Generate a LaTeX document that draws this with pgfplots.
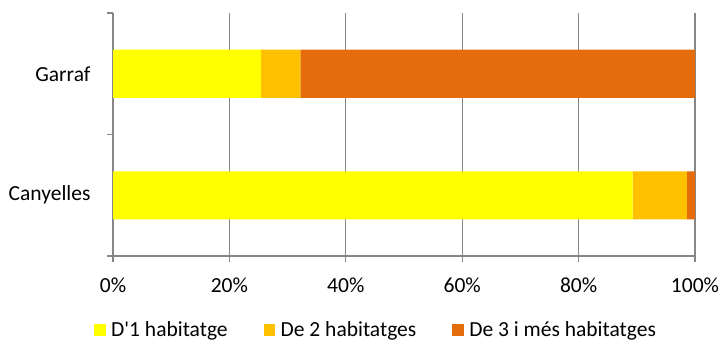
\documentclass[border=0pt]{standalone}
\usepackage{pgfplots}
\pgfplotsset{compat=1.18}
\usepackage{fontspec}
\setmainfont{Carlito}
\definecolor{c1}{HTML}{FFFF00}
\definecolor{c2}{HTML}{FFC000}
\definecolor{c3}{HTML}{E46C0A}
\definecolor{gridc}{HTML}{868686}
\begin{document}
\begin{tikzpicture}[x=1bp,y=1bp]
\path[use as bounding box] (0,0) rectangle (721,341);
\begin{axis}[
  at={(113bp,85bp)}, anchor=south west,
  scale only axis, width=582bp, height=243bp,
  xbar stacked, bar width=48bp,
  xmin=0, xmax=100, ymin=-0.5, ymax=1.5,
  axis x line=bottom, axis y line=left,
  axis line style={draw=gridc, line width=1.3bp, -},
  xtick={0,20,40,60,80,100},
  xticklabels={0\%,20\%,40\%,60\%,80\%,100\%},
  xticklabel style={yshift=-12bp},
  xmajorgrids, grid style={draw=gridc, line width=1.1bp},
  tick align=outside, major tick length=6bp,
  tick style={draw=gridc, line width=1.3bp},
  ytick={-0.5,0.5,1.5}, yticklabels={},
  extra y ticks={0,1}, extra y tick labels={Canyelles,Garraf},
  extra y tick style={tick style={draw=none}, yticklabel style={xshift=-13bp}},
  every tick label/.append style={font=\fontsize{21.5bp}{25bp}\selectfont, text=black},
  legend columns=3,
  legend style={at={(-0.0326,-0.304)}, anchor=west, draw=none, fill=none,
    inner sep=0pt, font=\fontsize{21.5bp}{25bp}\selectfont,
    nodes={inner sep=2bp},
    /tikz/every odd column/.append style={column sep=3.5bp},
    /tikz/every even column/.append style={column sep=34bp}},
  legend image code/.code={\path[#1,draw=none] (0bp,-6bp) rectangle (11.5bp,6bp);},
]
\addplot[fill=c1, draw=none] coordinates {(89.3,0) (25.4,1)};
\addplot[fill=c2, draw=none] coordinates {(9.3,0) (6.8,1)};
\addplot[fill=c3, draw=none] coordinates {(1.4,0) (67.8,1)};
\legend{D\textquotesingle1 habitatge, De 2 habitatges, De 3 i més habitatges}
\end{axis}
\end{tikzpicture}
\end{document}
